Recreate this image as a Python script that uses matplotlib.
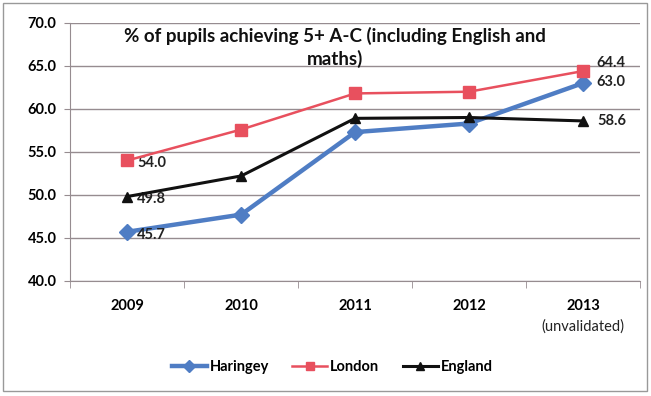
import matplotlib
matplotlib.use("Agg")
import matplotlib.pyplot as plt
from matplotlib.lines import Line2D

years = ["2009", "2010", "2011", "2012", "2013"]
year_notes = ["", "", "", "", "(unvalidated)"]
haringey = [45.7, 47.7, 57.3, 58.3, 63.0]
london = [54.0, 57.6, 61.8, 62.0, 64.4]
england = [49.8, 52.2, 58.9, 59.0, 58.6]
title = "% of pupils achieving 5+ A-C (including English and\nmaths)"

plt.rcParams['font.family'] = ['Lato', 'DejaVu Sans']

BLUE = "#4F7DC4"
RED = "#E8505E"
BLACK = "#111111"
GRID = "#968c90"

fig = plt.figure(figsize=(6.51, 3.96), dpi=100)
ax = fig.add_axes([0.108, 0.291, 0.875, 0.651])

x = list(range(len(years)))
ax.plot(x, haringey, color=BLUE, lw=3.2, marker="D", ms=8, label="Haringey", zorder=3)
ax.plot(x, london, color=RED, lw=1.8, marker="s", ms=8, label="London", zorder=4)
ax.plot(x, england, color=BLACK, lw=2.2, marker="^", ms=7, label="England", zorder=5)

# value labels on the first and last year
for series, dy in ((haringey, -2), (london, -2), (england, -2)):
    ax.annotate(f"{series[0]:.1f}", (x[0], series[0]), xytext=(7, dy),
                textcoords="offset points", ha="left", va="center",
                fontsize=10.5, fontweight="bold", color="#222222")
for series, dy in ((haringey, 1), (london, 6), (england, 0)):
    ax.annotate(f"{series[-1]:.1f}", (x[-1], series[-1]), xytext=(10, dy),
                textcoords="offset points", ha="left", va="center",
                fontsize=10.5, fontweight="bold", color="#222222")

ax.set_xlim(-0.5, len(years) - 0.5)
ax.set_ylim(40, 70)
ax.set_yticks(range(40, 71, 5))
ax.set_yticklabels([f"{v:.1f}" for v in range(40, 71, 5)], fontsize=10.5, fontweight="bold")
ax.set_xticks(x)
ax.set_xticklabels(years, fontsize=10.5, fontweight="bold")
ax.set_xticks([i + 0.5 for i in range(-1, len(years))], minor=True)
ax.tick_params(axis="x", which="major", length=0, pad=13)
ax.tick_params(axis="x", which="minor", length=5, color=GRID)
ax.tick_params(axis="y", length=4, color=GRID, pad=6)
ax.grid(axis="y", color=GRID, lw=1.0)
ax.set_axisbelow(True)
for side in ("top", "right"):
    ax.spines[side].set_visible(False)
for side in ("left", "bottom"):
    ax.spines[side].set_color(GRID)

for xi, note in zip(x, year_notes):
    if note:
        ax.annotate(note, (xi, 0), xycoords=("data", "axes fraction"),
                    xytext=(0, -33), textcoords="offset points",
                    ha="center", va="center", fontsize=10.5, color="#222222")

ax.text(0.465, 0.985, title, transform=ax.transAxes, ha="center", va="top",
        fontsize=13.5, fontweight="bold", linespacing=1.3, color="#111111")

handles = [
    Line2D([], [], color=BLUE, lw=3.2, marker="D", ms=6),
    Line2D([], [], color=RED, lw=1.8, marker="s", ms=6),
    Line2D([], [], color=BLACK, lw=2.2, marker="^", ms=6),
]
leg = fig.legend(handles, ["Haringey", "London", "England"], loc="center",
                 bbox_to_anchor=(0.51, 0.072), ncol=3, frameon=False,
                 prop={"size": 10.5, "weight": "bold"}, handlelength=2.4,
                 handletextpad=0.2, columnspacing=1.6)

fig.patches.append(plt.Rectangle((0.004, 0.012), 0.99, 0.98, transform=fig.transFigure,
                                 fill=False, edgecolor="#999999", lw=1.0))

fig.savefig("out.png", dpi=100, facecolor="white")
